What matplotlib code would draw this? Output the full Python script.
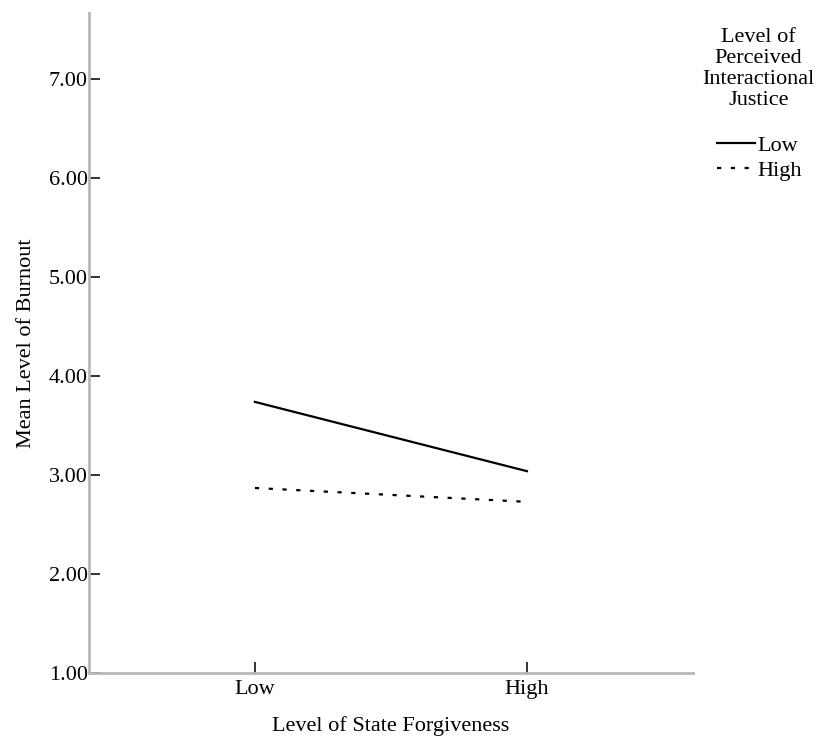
import numpy as np
import matplotlib
matplotlib.use("Agg")
from matplotlib import pyplot as plt

plt.rcParams['font.family'] = ['Liberation Serif', 'DejaVu Serif']

# data
forgiveness = ["Low", "High"]
justice_low = [3.74, 3.04]
justice_high = [2.87, 2.73]
legend_labels = ["Low", "High"]
legend_title = "Level of\nPerceived\nInteractional\nJustice"
yticks = [1.0, 2.0, 3.0, 4.0, 5.0, 6.0, 7.0]

fs = 16

fig = plt.figure(figsize=(8.18, 7.4), dpi=100)
ax = fig.add_axes([0.1088, 0.0905, 0.7382, 0.8919])

x = np.arange(len(forgiveness))
ax.plot(x, justice_low, color="black", lw=1.6, label=legend_labels[0])
ax.plot(x, justice_high, color="black", lw=1.6, linestyle=(0, (1.9, 4.3)), label=legend_labels[1])

ax.set_xlim(-0.61, 1.61)
ax.set_ylim(1.0, 7.67)
ax.set_xticks(x)
ax.set_xticklabels(forgiveness, fontsize=fs)
ax.set_yticks(yticks)
ax.set_yticklabels(["{:.2f}".format(v) for v in yticks], fontsize=fs)
ax.tick_params(axis="both", direction="in", length=8, width=1.4, color="#333333", pad=1)
ax.tick_params(axis="x", pad=5)

for s in ["top", "right"]:
    ax.spines[s].set_visible(False)
for s in ["left", "bottom"]:
    ax.spines[s].set_color("#b8b8b8")
    ax.spines[s].set_linewidth(2)

ax.set_xlabel("Level of State Forgiveness", fontsize=fs, labelpad=12)
ax.set_ylabel("Mean Level of Burnout", fontsize=fs, labelpad=9)

# legend title drawn on its own so the gap below it can match
fig.text(0.927, 1 - 28 / 740, legend_title, ha="center", va="top",
         multialignment="center", fontsize=fs, linespacing=1.15)

leg = fig.legend(loc="upper left", bbox_to_anchor=(717 / 818, 1 - 135 / 740),
                 frameon=False, fontsize=fs,
                 handlelength=1.7, handletextpad=0.1, labelspacing=0.2,
                 borderaxespad=0, borderpad=0)

plt.savefig("out.png", dpi=100)
plt.close()
